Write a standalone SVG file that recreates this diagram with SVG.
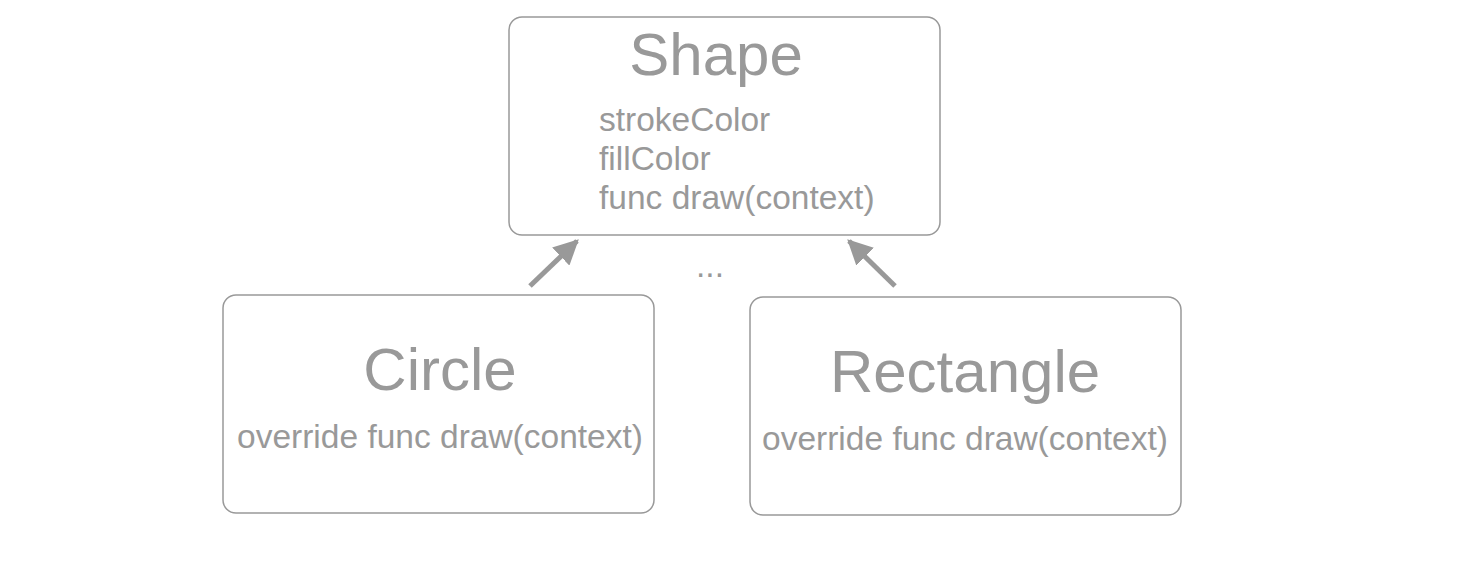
<svg xmlns="http://www.w3.org/2000/svg" width="1476" height="562" viewBox="0 0 1476 562">
<style>
.box{fill:#fff;stroke:#999;stroke-width:1.5}
.title{font-family:"Liberation Sans",Arial,sans-serif;font-size:60px;fill:#999;text-anchor:middle}
.attr{font-family:"Liberation Sans",Arial,sans-serif;font-size:33.5px;fill:#999}
.sub{font-family:"Liberation Sans",Arial,sans-serif;font-size:33.5px;fill:#999;text-anchor:middle}
.conn{stroke:#999;stroke-width:5;fill:none;marker-end:url(#ah)}
</style>
<defs>
<marker id="ah" viewBox="0 0 10 10" refX="9" refY="5" markerWidth="5" markerHeight="5" orient="auto" markerUnits="strokeWidth">
<path d="M0,0 L10,5 L0,10 z" fill="#999"/>
</marker>
</defs>
<rect width="1476" height="562" fill="#fff"/>
<g id="shape">
<rect class="box" x="509" y="17" width="431" height="218" rx="13"/>
<text class="title" x="716" y="75">Shape</text>
<text class="attr" x="599" y="131">strokeColor</text>
<text class="attr" x="599" y="170">fillColor</text>
<text class="attr" x="599" y="209">func draw(context)</text>
</g>
<g id="circle">
<rect class="box" x="223" y="295" width="431" height="218" rx="13"/>
<text class="title" x="440" y="390">Circle</text>
<text class="sub" x="440" y="448">override func draw(context)</text>
</g>
<g id="rectangle">
<rect class="box" x="750" y="297" width="431" height="218" rx="13"/>
<text class="title" x="965" y="392">Rectangle</text>
<text class="sub" x="965" y="450">override func draw(context)</text>
</g>
<g id="connectors">
<line class="conn" x1="530" y1="286" x2="577" y2="241"/>
<line class="conn" x1="895" y1="286" x2="849" y2="241"/>
<text class="attr" x="710" y="277" text-anchor="middle">...</text>
</g>
</svg>
